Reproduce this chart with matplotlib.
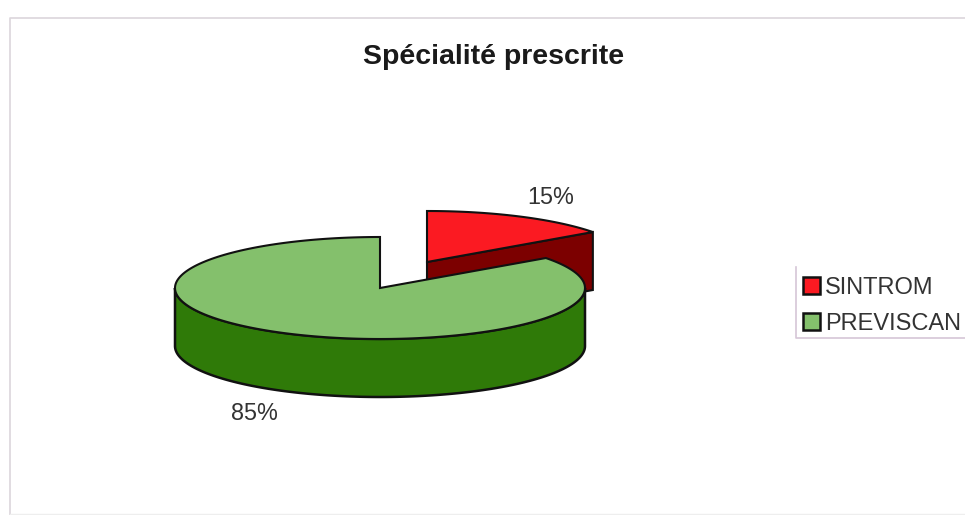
import numpy as np
import matplotlib
matplotlib.use('Agg')
import matplotlib.pyplot as plt
from matplotlib.patches import Patch

title = 'Spécialité prescrite'
labels = ['SINTROM', 'PREVISCAN']
values = [15, 85]
pct_labels = ['15%', '85%']

top_colors = ['#fb1a22', '#84c06c']
side_colors = ['#7c0000', '#2f7a08']

plt.rcParams['font.family'] = ['Liberation Sans', 'DejaVu Sans']

fig = plt.figure(figsize=(9.65, 5.15), dpi=100)
ax = fig.add_axes([0, 0, 1, 1])
ax.set_xlim(0, 965)
ax.set_ylim(515, 0)
ax.axis('off')

# pie geometry in pixels
rx, ry, depth = 205, 51, 58
center = (380, 288)
red_center = (427, 262)
edge = '#111111'


def arc(c, a0, a1, dz=0):
    t = np.deg2rad(np.linspace(a0, a1, 200))
    return c[0] + rx * np.cos(t), c[1] - ry * np.sin(t) + dz


# slices start at 12 o'clock and go clockwise
red_start = 90
red_end = 90 - values[0] / sum(values) * 360

# red slice, drawn first because the green one sits in front of it
x, y = arc(red_center, red_end, red_start)
ax.fill([red_center[0], red_center[0], x[0], x[0]],
        [red_center[1], red_center[1] + depth, y[0] + depth, y[0]],
        fc=side_colors[0], ec=edge, lw=1.5, zorder=2)
ax.fill(np.r_[red_center[0], x], np.r_[red_center[1], y],
        fc=top_colors[0], ec=edge, lw=1.5, zorder=3)

# green slice
x, y = arc(center, 180, 360)
xb, yb = arc(center, 360, 180, depth)
ax.fill(np.r_[x, xb], np.r_[y, yb], fc=side_colors[1], ec=edge, lw=1.8, zorder=4)
x, y = arc(center, red_start, red_end + 360)
ax.fill(np.r_[center[0], x], np.r_[center[1], y],
        fc=top_colors[1], ec=edge, lw=1.5, zorder=5)

ax.text(494, 57, title, fontsize=20.5, fontweight='bold', color='#1a1a1a',
        ha='center', va='center')
ax.text(551, 197, pct_labels[0], fontsize=16.8, color='#333333', ha='center', va='center')
ax.text(254, 414, pct_labels[1], fontsize=16.8, color='#333333', ha='center', va='center')

# page frame from the scan
ax.plot([10, 10, 965], [515, 18, 18], color='#dcd6dc', lw=1.2, zorder=1)
ax.plot([10, 965], [514, 514], color='#eeeeee', lw=1, zorder=1)

# legend box runs off the right side of the picture
ax.plot([796, 796, 965], [267, 338, 338], color='#d5c6d7', lw=1.2, zorder=1)
handles = [Patch(fc=c, ec='#111111', lw=1.8) for c in top_colors]
ax.legend(handles, labels, loc='upper left', bbox_to_anchor=(803 / 965, 1 - 277 / 515),
          bbox_transform=ax.transAxes, frameon=False, fontsize=17, labelcolor='#333333',
          handlelength=0.72, handleheight=0.72, handletextpad=0.2, labelspacing=0.6,
          borderpad=0, borderaxespad=0)

fig.savefig('out.png', dpi=100)
